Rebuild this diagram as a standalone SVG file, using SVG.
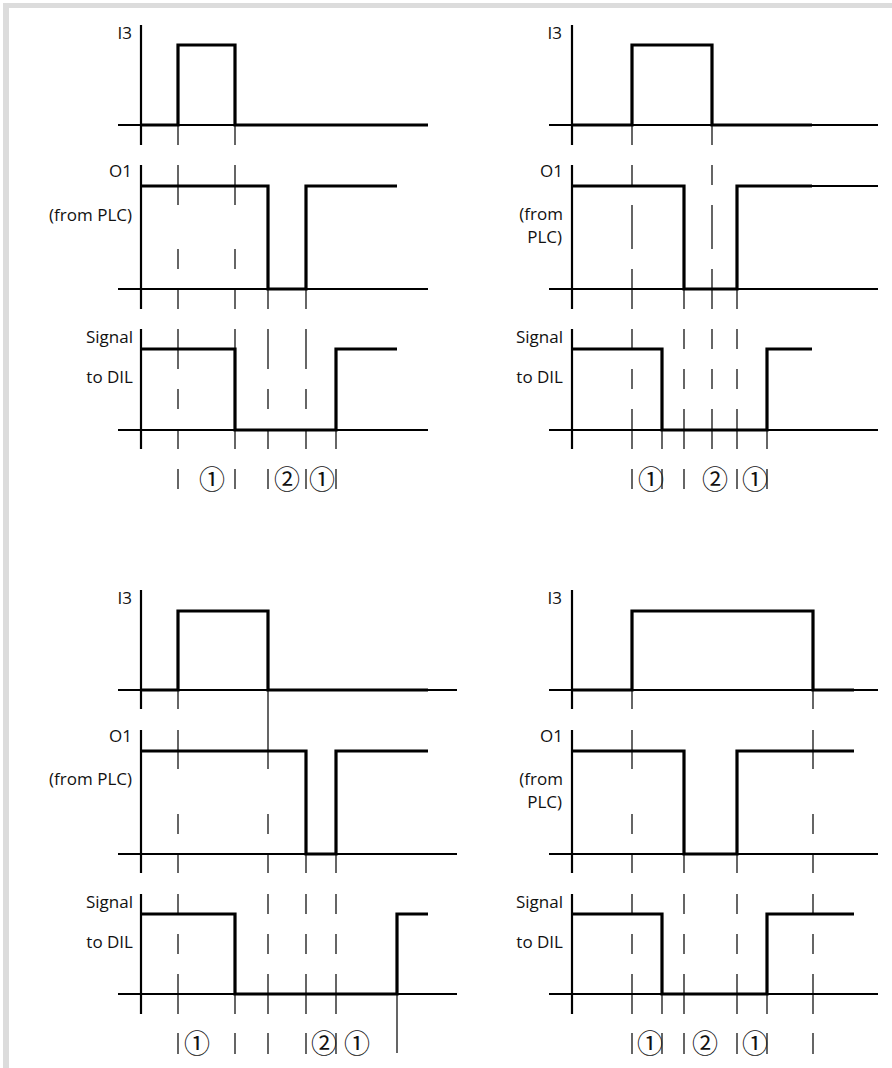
<svg xmlns="http://www.w3.org/2000/svg" width="892" height="1068" viewBox="0 0 892 1068">
<style>
.axis{stroke:#000;stroke-width:2.2;fill:none}
.base{stroke:#000;stroke-width:2.2;fill:none}
.sig{stroke:#000;stroke-width:3.2;fill:none;stroke-linejoin:miter}
.dash{stroke:#000;stroke-width:1.2;fill:none}
.lbl{font-family:"Open Sans","Noto Sans","DejaVu Sans",sans-serif;font-size:17px;fill:#111;text-anchor:end}
.num{font-family:"Noto Sans CJK JP","DejaVu Sans",sans-serif;font-size:26px;fill:#111;text-anchor:middle}
</style>
<rect x="0" y="0" width="892" height="1068" fill="#fff"/>
<rect x="3" y="3" width="889" height="5" fill="#dcdcdc"/>
<rect x="3" y="3" width="6" height="1065" fill="#dcdcdc"/>

<g id="diagram-top-left">
<text class="lbl" x="132" y="39">I3</text>
<text class="lbl" x="132" y="177">O1</text>
<text class="lbl" x="132" y="221">(from PLC)</text>
<text class="lbl" x="133" y="343">Signal</text>
<text class="lbl" x="133" y="383">to DIL</text>
<path class="axis" d="M141 25V145M141 165V309M141 329V449"/>
<path class="base" d="M118 125H428M118 289H428M118 430H428"/>
<path class="sig" d="M141 125H178V45H235V125H428"/>
<path class="sig" d="M141 186H268V289H306V186H397"/>
<path class="sig" d="M141 349H235V430H336V349H397"/>
<path class="dash" d="M178 125V145M235 125V145
M178 165V205M178 249V269M178 290V309M235 165V205M235 249V269M235 290V309M268 290V309M306 290V309
M178 329V369M178 389V409M178 430V449M268 329V369M268 389V409M268 430V449M306 329V369M306 389V409M306 430V449
M235 329V349M235 430V449M336 430V449
M178 469V489M235 469V489M268 469V489M306 469V489M336 469V489"/>
<text class="num" x="212" y="489">①</text>
<text class="num" x="287" y="489">②</text>
<text class="num" x="322" y="489">①</text>
</g>

<g id="diagram-top-right">
<text class="lbl" x="562" y="39">I3</text>
<text class="lbl" x="563" y="177">O1</text>
<text class="lbl" x="563" y="220">(from</text>
<text class="lbl" x="562" y="243">PLC)</text>
<text class="lbl" x="563" y="343">Signal</text>
<text class="lbl" x="563" y="383">to DIL</text>
<path class="axis" d="M572 25V145M572 165V309M572 329V449"/>
<path class="base" d="M549 125H878M549 289H878M549 430H878M812 186H878"/>
<path class="sig" d="M572 125H632V45H712V125H812"/>
<path class="sig" d="M572 186H684V289H737V186H812"/>
<path class="sig" d="M572 349H662V430H767V349H812"/>
<path class="dash" d="M632 125V145M712 125V145
M632 165V185M632 205V249M632 269V309M712 165V185M712 205V249M712 269V309M684 290V309M737 290V309
M632 329V349M632 369V389M632 409V449M684 329V349M684 369V389M684 409V449M712 329V349M712 369V389M712 409V449M737 329V349M737 369V389M737 409V449
M662 430V449M767 430V449
M632 469V489M662 469V489M684 469V489M737 469V489M767 469V489"/>
<text class="num" x="651" y="489">①</text>
<text class="num" x="715" y="489">②</text>
<text class="num" x="755" y="489">①</text>
</g>

<g id="diagram-bottom-left">
<text class="lbl" x="132" y="604">I3</text>
<text class="lbl" x="132" y="742">O1</text>
<text class="lbl" x="132" y="785">(from PLC)</text>
<text class="lbl" x="133" y="908">Signal</text>
<text class="lbl" x="133" y="948">to DIL</text>
<path class="axis" d="M141 590V709M141 730V873M141 894V1014"/>
<path class="base" d="M118 690H457M118 854H457M118 994H457"/>
<path class="sig" d="M141 690H178V611H268V690H428"/>
<path class="sig" d="M141 751H306V854H336V751H428"/>
<path class="sig" d="M141 914H235V994H397V914H428"/>
<path class="dash" d="M178 690V709M268 690V769
M178 730V769M178 814V834M178 854V873M268 814V834M268 854V873M306 854V873M336 854V873
M178 894V914M178 934V954M178 974V1014M268 894V914M268 934V954M268 974V1014M306 894V914M306 934V954M306 974V1014M336 894V914M336 934V954M336 974V1014
M235 994V1014M397 994V1053
M178 1033V1054M235 1033V1054M268 1033V1054M306 1033V1054M336 1033V1054"/>
<text class="num" x="197" y="1053">①</text>
<text class="num" x="324" y="1053">②</text>
<text class="num" x="357" y="1053">①</text>
</g>

<g id="diagram-bottom-right">
<text class="lbl" x="562" y="604">I3</text>
<text class="lbl" x="563" y="742">O1</text>
<text class="lbl" x="563" y="785">(from</text>
<text class="lbl" x="562" y="808">PLC)</text>
<text class="lbl" x="563" y="908">Signal</text>
<text class="lbl" x="563" y="948">to DIL</text>
<path class="axis" d="M572 590V709M572 730V873M572 894V1014"/>
<path class="base" d="M549 690H878M549 854H878M549 994H878"/>
<path class="sig" d="M572 690H632V611H813V690H854"/>
<path class="sig" d="M572 751H684V854H737V751H854"/>
<path class="sig" d="M572 914H662V994H767V914H854"/>
<path class="dash" d="M632 690V709M813 690V709
M632 730V769M632 814V834M632 854V873M813 730V769M813 814V834M813 854V873M684 854V873M737 854V873
M632 894V914M632 934V954M632 974V1014M684 894V914M684 934V954M684 974V1014M737 894V914M737 934V954M737 974V1014M813 894V914M813 934V954M813 974V1014
M662 994V1014M767 994V1014
M632 1033V1054M662 1033V1054M684 1033V1054M737 1033V1054M767 1033V1054M813 1033V1054"/>
<text class="num" x="650" y="1053">①</text>
<text class="num" x="705" y="1053">②</text>
<text class="num" x="755" y="1053">①</text>
</g>
</svg>
